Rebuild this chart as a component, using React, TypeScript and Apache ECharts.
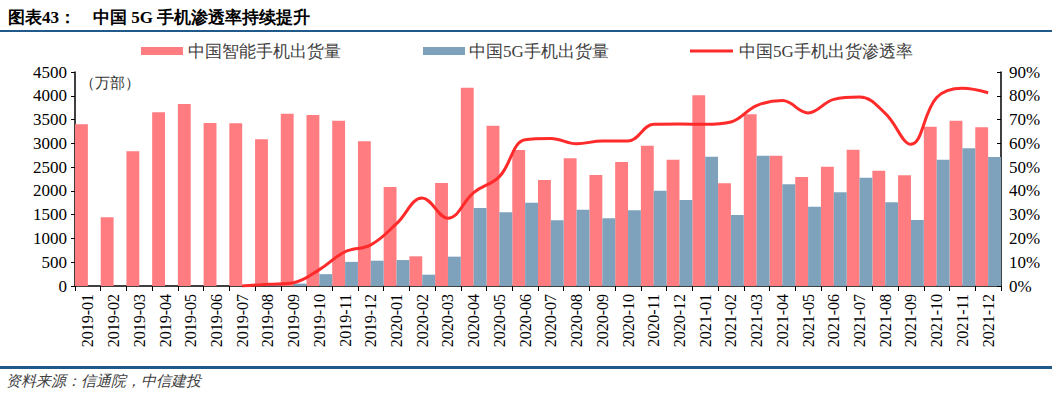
import React, { useEffect, useRef } from "react";
import * as echarts from "echarts";

const categories = [
  "2019-01", "2019-02", "2019-03", "2019-04", "2019-05", "2019-06", "2019-07", "2019-08", "2019-09", "2019-10", "2019-11", "2019-12",
  "2020-01", "2020-02", "2020-03", "2020-04", "2020-05", "2020-06", "2020-07", "2020-08", "2020-09", "2020-10", "2020-11", "2020-12",
  "2021-01", "2021-02", "2021-03", "2021-04", "2021-05", "2021-06", "2021-07", "2021-08", "2021-09", "2021-10", "2021-11", "2021-12",
];

const smartphoneShipments = [
  3400, 1445, 2833, 3653, 3827, 3428, 3421, 3085, 3624, 3596, 3477, 3042,
  2082, 624, 2166, 4171, 3372, 2860, 2229, 2685, 2334, 2608, 2951, 2657,
  4010, 2160, 3610, 2741, 2292, 2510, 2867, 2425, 2327, 3351, 3477, 3337,
];

const fiveGShipments = [
  null, null, null, null, null, null, 0, 22, 50, 249, 507, 532,
  546, 238, 617, 1638, 1549, 1751, 1381, 1605, 1423, 1591, 2005, 1809,
  2720, 1493, 2741, 2138, 1668, 1970, 2278, 1760, 1388, 2657, 2895, 2713,
];

const penetrationRate = [
  null, null, null, null, null, null, 0, 0.7, 1.4, 6.9, 14.4, 17.3,
  26.2, 37.0, 28.5, 39.3, 46.0, 61.5, 62.0, 59.8, 61.0, 61.0, 68.0, 68.1,
  68.0, 69.0, 75.9, 78.0, 72.8, 78.5, 79.5, 72.6, 59.6, 79.3, 83.2, 81.3,
];

const seriesNames = ["中国智能手机出货量", "中国5G手机出货量", "中国5G手机出货渗透率"];
const titleText = "图表43：    中国 5G 手机渗透率持续提升";
const unitText = "（万部）";
const sourceText = "资料来源：信通院，中信建投";

const PINK = "#FF7C80";
const BLUE = "#7FA2BC";
const RED = "#FF2A2A";
const serif = "Liberation Serif";

export default function App() {
  const ref = useRef<HTMLDivElement>(null);
  useEffect(() => {
    if (!ref.current) return;
    const chart = echarts.init(ref.current, undefined, { renderer: "svg" });
    const legendText = (x: number, text: string) => ({
      type: "text",
      x,
      y: 51,
      style: { text, font: `17px ${serif}`, fill: "#404040", textVerticalAlign: "middle", verticalAlign: "middle" },
    });
    chart.setOption({
      animation: false,
      backgroundColor: "#ffffff",
      grid: { left: 75, right: 51, top: 72, bottom: 108, containLabel: false },
      legend: { show: false },
      graphic: [
        {
          type: "text",
          x: 8,
          y: 17,
          style: { text: titleText, font: `bold 17px ${serif}`, fill: "#000", verticalAlign: "middle" },
        },
        { type: "rect", shape: { x: 0, y: 30, width: 1052, height: 2 }, style: { fill: "#1F5A8A" } },
        { type: "rect", shape: { x: 0, y: 366, width: 1052, height: 3 }, style: { fill: "#1F5A8A" } },
        {
          type: "text",
          x: 6,
          y: 381,
          style: { text: sourceText, font: `italic 15px ${serif}`, fill: "#404040", verticalAlign: "middle" },
        },
        {
          type: "text",
          x: 80,
          y: 83,
          style: { text: unitText, font: `15px ${serif}`, fill: "#333", verticalAlign: "middle" },
        },
        { type: "rect", shape: { x: 141, y: 47, width: 42, height: 8 }, style: { fill: PINK } },
        legendText(188, seriesNames[0]),
        { type: "rect", shape: { x: 423, y: 47, width: 42, height: 8 }, style: { fill: BLUE } },
        legendText(469, seriesNames[1]),
        { type: "line", shape: { x1: 690, y1: 51, x2: 733, y2: 51 }, style: { stroke: RED, lineWidth: 3 } },
        legendText(739, seriesNames[2]),
      ],
      xAxis: {
        type: "category",
        data: categories,
        axisLine: { lineStyle: { color: "#000", width: 1.5 } },
        axisTick: { show: true, length: 5, lineStyle: { color: "#000" } },
        axisLabel: { rotate: 90, interval: 0, fontSize: 16, color: "#000", fontFamily: serif, margin: 8 },
      },
      yAxis: [
        {
          type: "value",
          min: 0,
          max: 4500,
          interval: 500,
          splitLine: { show: false },
          axisLine: { show: true, lineStyle: { color: "#000", width: 1.5 } },
          axisTick: { show: true, length: 4, lineStyle: { color: "#000" } },
          axisLabel: { fontSize: 17, color: "#000", fontFamily: serif, margin: 8, formatter: (v: number) => String(v) },
        },
        {
          type: "value",
          min: 0,
          max: 90,
          interval: 10,
          splitLine: { show: false },
          axisLine: { show: true, lineStyle: { color: "#000", width: 1.5 } },
          axisTick: { show: true, inside: true, length: 4, lineStyle: { color: "#000" } },
          axisLabel: { fontSize: 17, color: "#000", fontFamily: serif, margin: 8, formatter: "{value}%" },
        },
      ],
      series: [
        {
          name: seriesNames[0],
          type: "bar",
          data: smartphoneShipments,
          itemStyle: { color: PINK },
          barGap: "0%",
          barCategoryGap: "0%",
        },
        {
          name: seriesNames[1],
          type: "bar",
          data: fiveGShipments,
          itemStyle: { color: BLUE },
          barGap: "0%",
          barCategoryGap: "0%",
        },
        {
          name: seriesNames[2],
          type: "line",
          yAxisIndex: 1,
          data: penetrationRate,
          smooth: 0.4,
          symbol: "none",
          lineStyle: { color: RED, width: 3 },
          itemStyle: { color: RED },
          z: 5,
        },
      ],
    });
    return () => chart.dispose();
  }, []);
  return (
    <div
      ref={ref}
      style={{ position: "fixed", left: 0, top: 0, width: 1052, height: 394, background: "#fff" }}
    />
  );
}
